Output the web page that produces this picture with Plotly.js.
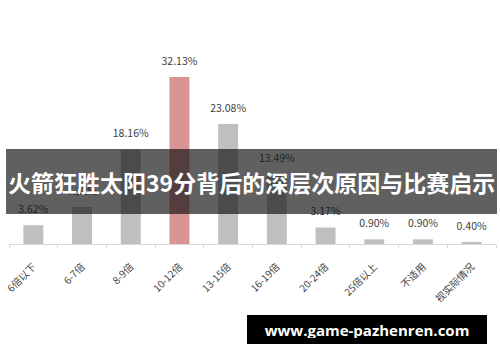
<!DOCTYPE html>
<html>
<head>
<meta charset="utf-8">
<script src="https://cdn.plot.ly/plotly-3.0.1.min.js"></script>
<style>
  html, body { margin: 0; padding: 0; background: #ffffff; }
  #chart { width: 500px; height: 362px; }
</style>
</head>
<body>
<div id="chart"></div>
<script>
// Share of cases by multiple band
const categories = ['6倍以下', '6-7倍', '8-9倍', '10-12倍', '13-15倍', '16-19倍', '20-24倍', '25倍以上', '不适用', '视实际情况'];
const shares = [3.62, 7.12, 18.16, 32.13, 23.08, 13.49, 3.17, 0.90, 0.90, 0.40];
const highlightCategory = '10-12倍';

const headline = '火箭狂胜太阳39分背后的深层次原因与比赛启示';
const siteMark = 'www.game-pazhenren.com';

const W = 500, H = 362;
const M = { l: 9, r: 4, t: 57, b: 118 };
const plotW = W - M.l - M.r;
const plotH = H - M.t - M.b;
// pixel position -> paper coordinate helpers for overlay elements
const px2x = px => (px - M.l) / plotW;
const px2y = py => (H - M.b - py) / plotH;

const barColors = categories.map(c => c === highlightCategory ? '#d99594' : '#bfbfbf');
const FONT = '"Noto Sans CJK SC", "Noto Sans", sans-serif';

const bars = {
  type: 'bar',
  x: categories,
  y: shares,
  marker: { color: barColors, line: { width: 0 } },
  cliponaxis: false,
  hoverinfo: 'skip'
};

// value labels above each bar; transparent markers give the label its lift
const valueLabels = {
  type: 'scatter',
  mode: 'markers+text',
  x: categories,
  y: shares,
  text: shares.map(v => v.toFixed(2) + '%'),
  textposition: 'top center',
  textfont: { family: FONT, size: 10.5, color: '#404040' },
  marker: { size: 14, color: 'rgba(0,0,0,0)' },
  cliponaxis: false,
  hoverinfo: 'skip'
};

const layout = {
  width: W,
  height: H,
  margin: M,
  paper_bgcolor: '#ffffff',
  plot_bgcolor: '#ffffff',
  showlegend: false,
  bargap: 0.59,
  font: { family: FONT, color: '#404040' },
  xaxis: {
    type: 'category',
    range: [-0.5, categories.length - 0.5],
    showline: true,
    linecolor: '#d9d9d9',
    linewidth: 1,
    ticks: 'outside',
    tickson: 'boundaries',
    ticklen: 3,
    tickcolor: '#d9d9d9',
    tickangle: -45,
    ticklabelstandoff: 12,
    tickfont: { family: FONT, size: 10, color: '#404040' },
    showgrid: false,
    zeroline: false,
    fixedrange: true
  },
  yaxis: {
    range: [0, 36],
    visible: false,
    showgrid: false,
    zeroline: false,
    fixedrange: true
  },
  shapes: [
    {
      type: 'rect',
      xref: 'paper', yref: 'paper',
      x0: px2x(6), x1: px2x(497),
      y0: px2y(214), y1: px2y(149),
      fillcolor: 'rgba(18,18,18,0.67)',
      line: { width: 0 },
      layer: 'above'
    }
  ],
  annotations: [
    {
      xref: 'paper', yref: 'paper',
      x: px2x(251), y: px2y(182),
      xanchor: 'center', yanchor: 'middle',
      text: '<b>' + headline + '</b>',
      showarrow: false,
      font: { family: FONT, size: 23, color: '#ffffff' }
    },
    {
      xref: 'paper', yref: 'paper',
      x: px2x(367), y: px2y(329.5),
      xanchor: 'center', yanchor: 'middle',
      text: '<b>' + siteMark + '</b>',
      showarrow: false,
      bgcolor: '#000000',
      borderpad: 6,
      borderwidth: 0,
      width: 228,
      height: 17,
      font: { family: '"Open Sans", "DejaVu Sans", sans-serif', size: 15, color: '#ffffff' }
    }
  ]
};

Plotly.newPlot('chart', [bars, valueLabels], layout, { displayModeBar: false, staticPlot: true });
</script>
</body>
</html>
